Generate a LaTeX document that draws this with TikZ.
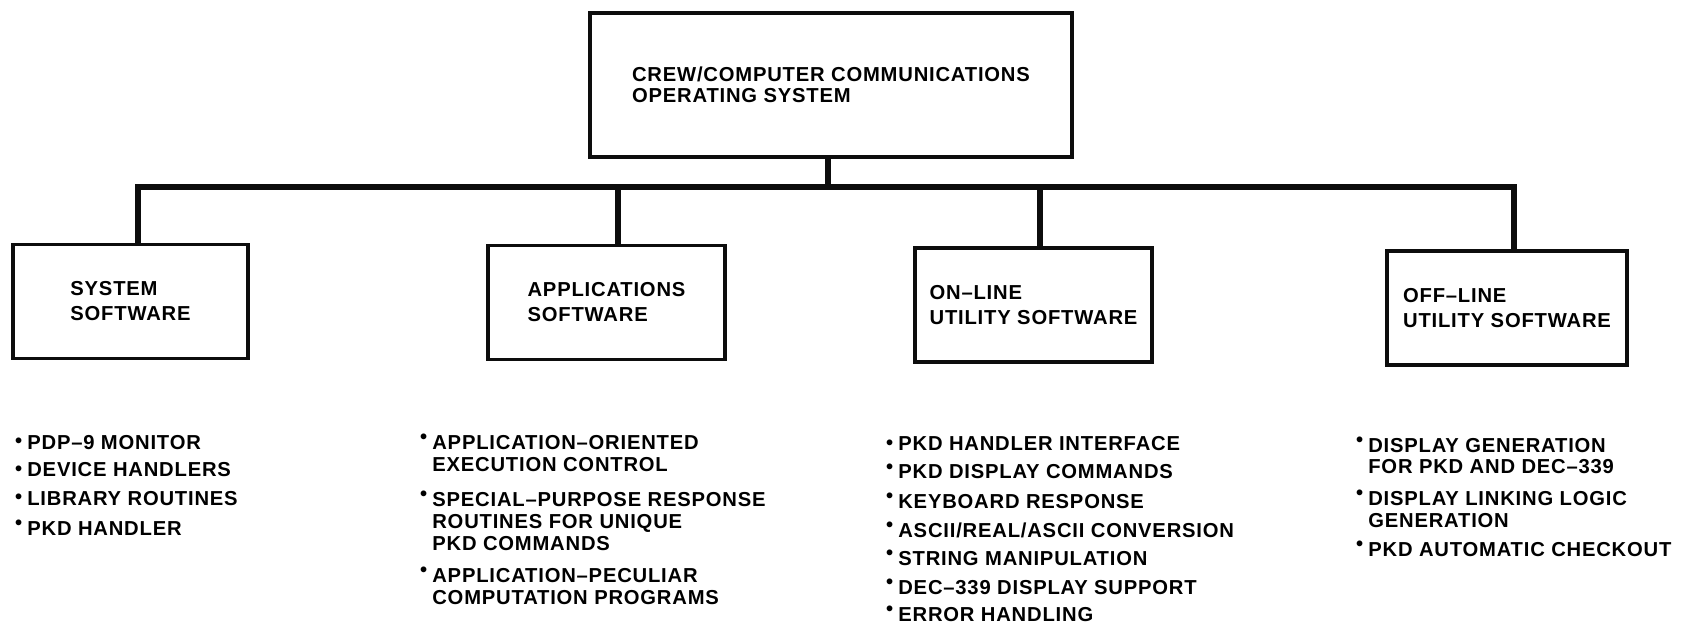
\documentclass[tikz,border=0pt]{standalone}
\usepackage{fontspec}
\setmainfont{Liberation Sans}[LetterSpace=4]
\usetikzlibrary{positioning}
\definecolor{mainBlack}{gray}{0.05}
\tikzset{
  box/.style={draw=mainBlack, line width=2pt, align=left, inner sep=0pt,
    minimum width=4.74cm, minimum height=2.28cm},
  link/.style={draw=mainBlack, line width=3.4pt},
  item/.style={anchor=base west, align=left, inner sep=0pt},
}
\newcommand{\dotM}{\llap{\raisebox{0.6pt}{\textbullet}\hspace{3pt}}}
\newcommand{\dotU}{\llap{\raisebox{3.2pt}{\textbullet}\hspace{3pt}}}

\begin{document}
\begin{tikzpicture}[x=0.02cm, y=-0.02cm, font=\bfseries\fontsize{11.5}{12.5}\selectfont]
    \useasboundingbox (0,0) rectangle (1685,628);

    % 箱
    \node[box, minimum width=9.64cm, minimum height=2.88cm] (top) at (831,85)
      {CREW/COMPUTER COMMUNICATIONS\\[-0.6pt]OPERATING SYSTEM};
    \node[box, minimum width=4.7cm] (sys) at (130.5,301.5) {SYSTEM\\[1.7pt]SOFTWARE};
    \node[box] (app) at (606.5,302.5) {APPLICATIONS\\[1.7pt]SOFTWARE};
    \node[box] (onl) at (1033.5,305) {ON\textendash LINE\\[1.7pt]UTILITY SOFTWARE};
    \node[box, minimum width=4.8cm] (off) at (1507,308) {OFF\textendash LINE\\[1.7pt]UTILITY SOFTWARE};

    % 分岐点
    \coordinate (j0) at (828,187);
    \coordinate (j1) at (138,187);
    \coordinate (j2) at (618,187);
    \coordinate (j3) at (1040,187);
    \coordinate (j4) at (1514,187);

    % 接続線
    \draw[link] (sys.north -| j1) -- (j1) -- (j4) -- (off.north -| j4);
    \draw[link] (top.south -| j0) -- (j0);
    \draw[link] (j2) -- (app.north -| j2);
    \draw[link] (j3) -- (onl.north -| j3);

    % 項目リスト (base = 最終行のベースライン)
    \node[item] (s1) at (27,449) {\dotM PDP\textendash 9 MONITOR};
    \node[item] (s2) at (27,477) {\dotM DEVICE HANDLERS};
    \node[item] (s3) at (27,505) {\dotM LIBRARY ROUTINES};
    \node[item] (s4) at (27,535) {\dotU PKD HANDLER};

    \node[item] (a1) at (432,471) {\dotU APPLICATION\textendash ORIENTED\\EXECUTION CONTROL};
    \node[item] (a2) at (432,550) {\dotU SPECIAL\textendash PURPOSE RESPONSE\\ROUTINES FOR UNIQUE\\PKD COMMANDS};
    \node[item] (a3) at (432,604) {\dotU APPLICATION\textendash PECULIAR\\COMPUTATION PROGRAMS};

    \node[item] (n1) at (898,451) {\dotM PKD HANDLER INTERFACE};
    \node[item] (n2) at (898,479) {\dotU PKD DISPLAY COMMANDS};
    \node[item] (n3) at (898,508) {\dotU KEYBOARD RESPONSE};
    \node[item] (n4) at (898,537) {\dotU ASCII/REAL/ASCII CONVERSION};
    \node[item] (n5) at (898,565) {\dotU STRING MANIPULATION};
    \node[item] (n6) at (898,594) {\dotU DEC\textendash 339 DISPLAY SUPPORT};
    \node[item] (n7) at (898,621) {\dotU ERROR HANDLING};

    \node[item] (f1) at (1368,474) {\dotU DISPLAY GENERATION\\FOR PKD AND DEC\textendash 339};
    \node[item] (f2) at (1368,527) {\dotU DISPLAY LINKING LOGIC\\GENERATION};
    \node[item] (f3) at (1368,556) {\dotU PKD AUTOMATIC CHECKOUT};
\end{tikzpicture}
\end{document}
